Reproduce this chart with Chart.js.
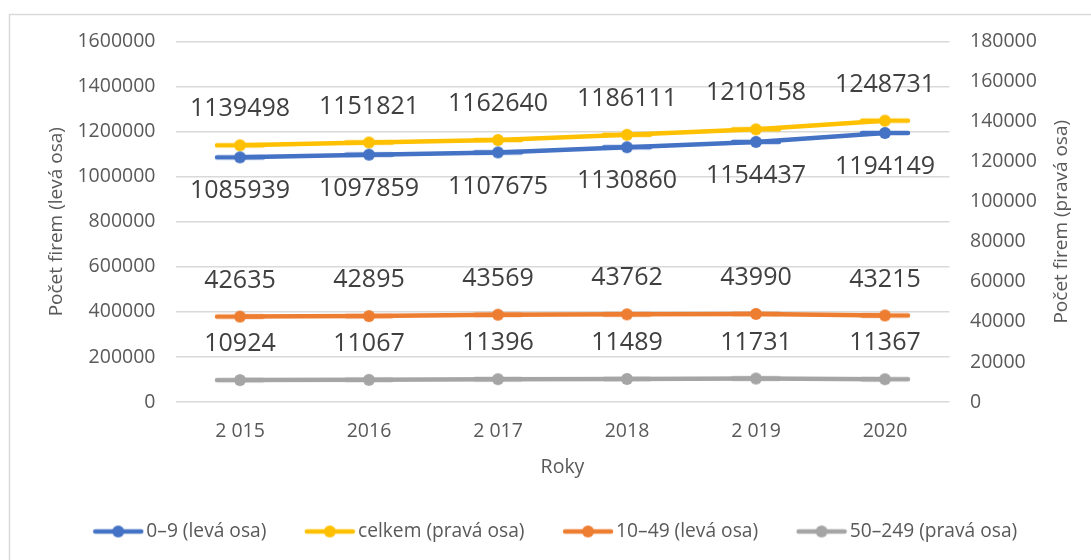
<!DOCTYPE html>
<html>
<head>
<meta charset="utf-8">
<script src="https://cdn.jsdelivr.net/npm/chart.js@4.4.0/dist/chart.umd.min.js"></script>
<style>
  html, body { margin: 0; padding: 0; background: #fff; }
  #wrap { width: 1091px; height: 560px; position: relative; }
</style>
</head>
<body>
<div id="wrap"><canvas id="line-chart"></canvas></div>
<script>
// roky a počty firem podle velikosti
var years = ['2 015', '2016', '2 017', '2018', '2 019', '2020'];
var mikro = [1085939, 1097859, 1107675, 1130860, 1154437, 1194149];   // 0–9
var celkem = [1139498, 1151821, 1162640, 1186111, 1210158, 1248731];
var male = [42635, 42895, 43569, 43762, 43990, 43215];                 // 10–49
var stredni = [10924, 11067, 11396, 11489, 11731, 11367];              // 50–249

var leftTicks = [0, 1600000, 200000];   // min, max, step
var rightTicks = [0, 180000, 20000];

var FONT = "'Open Sans', sans-serif";
var TXT = '#595959';

// legend marker: line with a dot
function marker(color) {
  var c = document.createElement('canvas');
  c.width = 52; c.height = 14;
  var g = c.getContext('2d');
  g.strokeStyle = color; g.lineWidth = 4.5; g.lineCap = 'round';
  g.beginPath(); g.moveTo(3, 7); g.lineTo(49, 7); g.stroke();
  g.fillStyle = color;
  g.beginPath(); g.arc(26, 7, 6, 0, Math.PI * 2); g.fill();
  return c;
}

function series(label, data, color, axis, pos) {
  return {
    label: label,
    data: data,
    borderColor: color,
    backgroundColor: color,
    borderWidth: 4.5,
    pointRadius: 6,
    pointHoverRadius: 6,
    pointBorderWidth: 0,
    pointStyle: marker(color),
    fill: false,
    tension: 0,
    yAxisID: axis,
    labelPos: pos
  };
}

var frame = {
  id: 'frame',
  beforeDraw: function(chart) {
    var ctx = chart.ctx;
    ctx.save();
    ctx.strokeStyle = '#d9d9d9';
    ctx.lineWidth = 1.5;
    ctx.strokeRect(9.5, 14.5, 1200, 1000);
    ctx.restore();
  },
  afterDraw: function(chart) {
    var ctx = chart.ctx, a = chart.chartArea;
    ctx.save();
    ctx.fillStyle = TXT;
    ctx.font = '19px ' + FONT;
    ctx.textAlign = 'center';
    ctx.textBaseline = 'middle';
    ctx.translate(1062, (a.top + a.bottom) / 2);
    ctx.rotate(-Math.PI / 2);
    ctx.fillText('Počet firem (pravá osa)', 0, 0);
    ctx.restore();
  }
};

var valueLabels = {
  id: 'valueLabels',
  afterDatasetsDraw: function(chart) {
    var ctx = chart.ctx;
    ctx.save();
    ctx.font = '25px ' + FONT;
    ctx.fillStyle = '#404040';
    ctx.textAlign = 'center';
    ctx.textBaseline = 'middle';
    chart.data.datasets.forEach(function(ds, i) {
      chart.getDatasetMeta(i).data.forEach(function(pt, j) {
        var dy = ds.labelPos === 'below' ? 34 : -36;
        ctx.fillText(String(ds.data[j]), pt.x, pt.y + dy);
      });
    });
    ctx.restore();
  }
};

myLineChart = new Chart(document.getElementById('line-chart'), {
  type: 'line',
  data: {
    labels: years,
    datasets: [
      series('0–9 (levá osa)', mikro, '#4472C4', 'yL', 'below'),
      series('celkem (pravá osa)', celkem, '#FFC000', 'yL', 'above'),
      series('10–49 (levá osa)', male, '#ED7D31', 'yR', 'above'),
      series('50–249 (pravá osa)', stredni, '#A5A5A5', 'yR', 'above')
    ]
  },
  options: {
    responsive: true,
    maintainAspectRatio: false,
    animation: false,
    layout: { padding: { left: 26, right: 0, top: 41.5, bottom: 8.9 } },
    plugins: {
      legend: {
        position: 'bottom',
        labels: {
          usePointStyle: true,
          pointStyleWidth: 37,
          boxHeight: 14,
          padding: 45,
          color: TXT,
          font: { family: FONT, size: 19.2 }
        }
      },
      tooltip: { enabled: false }
    },
    scales: {
      x: {
        offset: true,
        grid: { display: false, drawTicks: false },
        border: { display: false },
        ticks: { color: TXT, font: { family: FONT, size: 19.5 }, padding: 17.5, maxRotation: 0 },
        title: { display: true, text: 'Roky', color: TXT, font: { family: FONT, size: 19.5, lineHeight: 1 }, padding: { top: 0, bottom: 0.2 } },
        afterFit: function(s) { s.height = 74.9; }
      },
      yL: {
        position: 'left',
        min: leftTicks[0], max: leftTicks[1],
        ticks: { stepSize: leftTicks[2], color: TXT, font: { family: FONT, size: 19.5 }, padding: 20,
                 callback: function(v) { return String(v); } },
        grid: { color: '#d9d9d9', lineWidth: 1.5, drawTicks: false },
        border: { display: false },
        title: { display: true, text: 'Počet firem (levá osa)', color: TXT, font: { family: FONT, size: 19 }, padding: { top: 19, bottom: 0 } },
        afterFit: function(s) { s.width = 149.5; }
      },
      yR: {
        position: 'right',
        min: rightTicks[0], max: rightTicks[1],
        ticks: { stepSize: rightTicks[2], color: TXT, font: { family: FONT, size: 19.5 }, padding: 20.5,
                 callback: function(v) { return String(v); } },
        grid: { display: false, drawTicks: false },
        border: { display: false },
        afterFit: function(s) { s.width = 141.5; }
      }
    }
  },
  plugins: [frame, valueLabels]
});
</script>
</body>
</html>
